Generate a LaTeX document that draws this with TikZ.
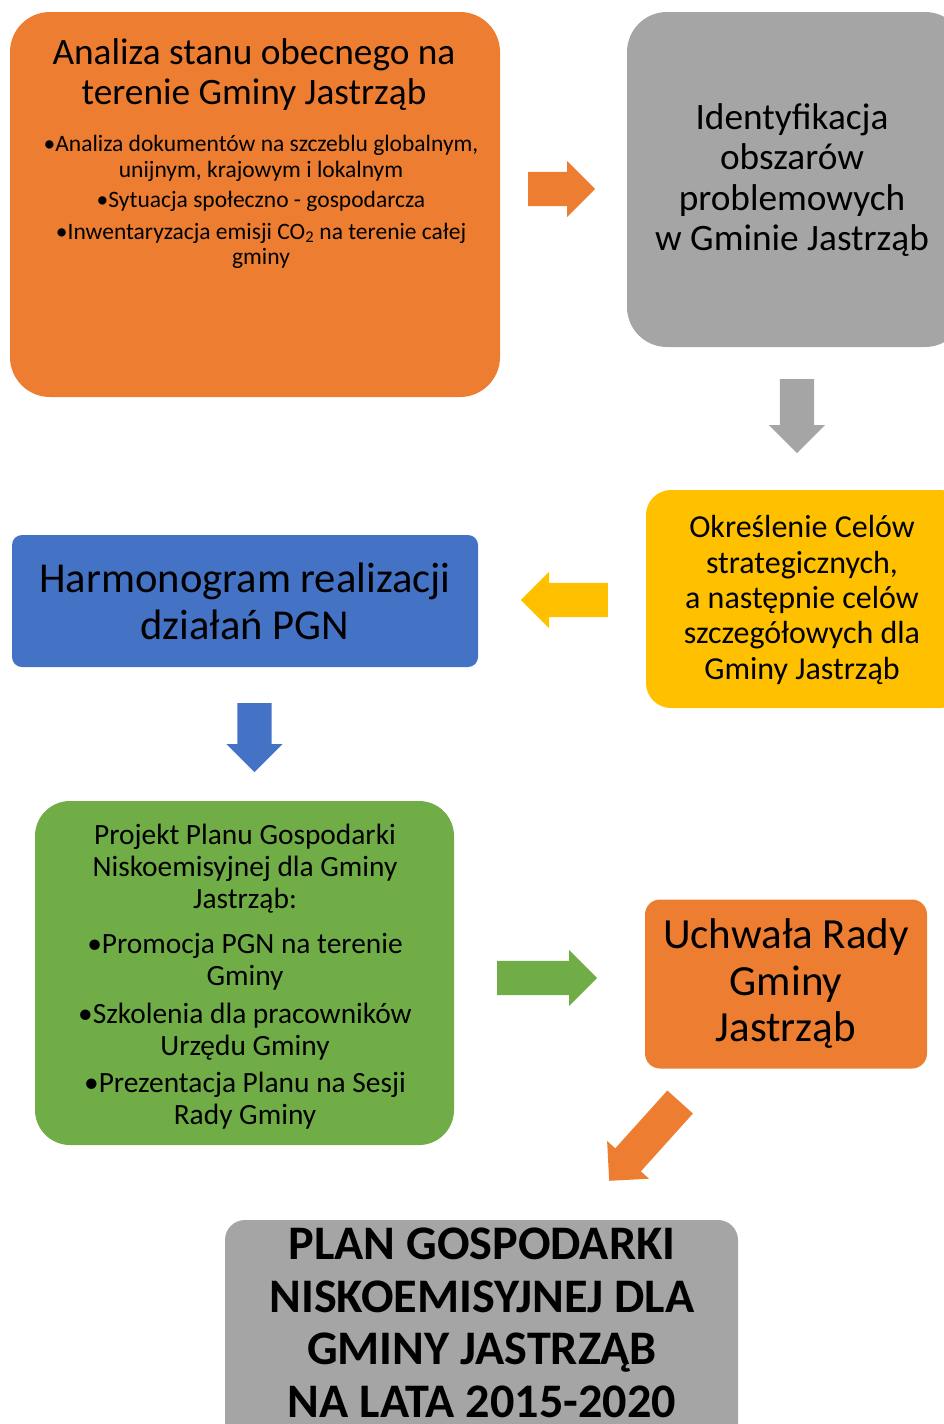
\documentclass[tikz,border=0pt]{standalone}
\usepackage{fontspec}
\setmainfont{Carlito}
\usetikzlibrary{shapes.arrows}

\definecolor{pgnorange}{HTML}{ED7D31}
\definecolor{pgngray}{HTML}{A5A5A5}
\definecolor{pgnyellow}{HTML}{FFC000}
\definecolor{pgnblue}{HTML}{4472C4}
\definecolor{pgngreen}{HTML}{70AD47}

\begin{document}
\begin{tikzpicture}[
    x=1pt,y=-1pt,
    every node/.style={inner sep=0pt,align=center,text=black},
    box/.style={rectangle,rounded corners=#1},
    blockarrow/.style={single arrow,fill=#1,inner xsep=0pt,inner ysep=17pt,
      single arrow head extend=11pt}
  ]
  \useasboundingbox (0,0) rectangle (944,1424);
  \clip (0,0) rectangle (944,1424);

  % boxes
  \node[box=40pt,fill=pgnorange,minimum width=490pt,minimum height=385pt] (analiza) at (255,204.5) {};
  \node[font=\fontsize{37.3}{40}\selectfont,anchor=north] (analizatytul) at (254,38)
    {Analiza stanu obecnego na\\terenie Gminy Jastrząb};
  \node[font=\fontsize{23.5}{25.5}\selectfont,anchor=north] (analizapunkty) at (261,135)
    {•Analiza dokumentów na szczeblu globalnym,\\unijnym, krajowym i lokalnym\\[5pt]
     •Sytuacja społeczno - gospodarcza\\[6pt]
     •Inwentaryzacja emisji CO\textsubscript{2} na terenie całej\\gminy};

  \node[box=40pt,fill=pgngray,minimum width=338pt,minimum height=335pt] (problemy) at (796,179.5) {};
  \node[font=\fontsize{37.3}{40.5}\selectfont] (problemytekst) at (792,180)
    {Identyfikacja\\obszarów\\problemowych\\w Gminie Jastrząb};

  \node[box=25pt,fill=pgnyellow,minimum width=319pt,minimum height=218pt] (cele) at (805.5,599) {};
  \node[font=\fontsize{32}{35.3}\selectfont] (celetekst) at (802,600)
    {Określenie Celów\\strategicznych,\\a następnie celów\\szczegółowych dla\\Gminy Jastrząb};

  \node[box=10pt,fill=pgnblue,minimum width=466pt,minimum height=132pt,
    font=\fontsize{42.6}{47}\selectfont] (harmonogram) at (245,601)
    {Harmonogram realizacji\\działań PGN};

  \node[box=35pt,fill=pgngreen,minimum width=419pt,minimum height=344pt] (projekt) at (244.5,973) {};
  \node[font=\fontsize{29.4}{32}\selectfont] (projekttekst) at (245,977)
    {Projekt Planu Gospodarki\\Niskoemisyjnej dla Gminy\\Jastrząb:\\[13pt]
     •Promocja PGN na terenie\\Gminy\\[6pt]
     •Szkolenia dla pracowników\\Urzędu Gminy\\[5pt]
     •Prezentacja Planu na Sesji\\Rady Gminy};

  \node[box=15pt,fill=pgnorange,minimum width=282pt,minimum height=169pt,
    font=\fontsize{43}{46.5}\selectfont] (uchwala) at (786,984)
    {Uchwała Rady\\Gminy\\Jastrząb};

  \node[box=20pt,fill=pgngray,minimum width=513pt,minimum height=240pt] (plan) at (481.5,1340) {};
  \node[font=\fontsize{48.2}{52.5}\selectfont\bfseries] (plantekst) at (482,1323)
    {PLAN GOSPODARKI\\NISKOEMISYJNEJ DLA\\GMINY JASTRZĄB\\NA LATA 2015-2020};

  % arrows
  \node[blockarrow=pgnorange,minimum height=67pt,anchor=tail] (strzalka1) at (528,189) {};
  \node[blockarrow=pgngray,minimum height=74pt,rotate=-90,anchor=tail] (strzalka2) at (797,379) {};
  \node[blockarrow=pgnyellow,minimum height=87pt,rotate=180,anchor=tail] (strzalka3) at (608,600) {};
  \node[blockarrow=pgnblue,minimum height=69pt,rotate=-90,anchor=tail] (strzalka4) at (254.5,703) {};
  \node[blockarrow=pgngreen,minimum height=100pt,anchor=tail] (strzalka5) at (497,978) {};
  \node[blockarrow=pgnorange,minimum height=106pt,rotate=228,anchor=tip] (strzalka6) at (609,1181) {};
\end{tikzpicture}
\end{document}
